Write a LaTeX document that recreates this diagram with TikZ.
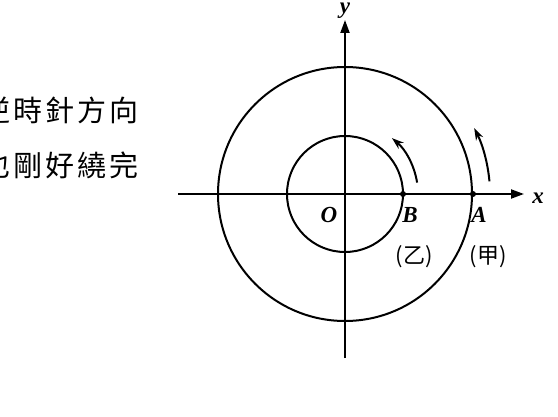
\documentclass[tikz,border=0pt]{standalone}
\usepackage{fontspec}
\setmainfont{Liberation Serif}
\newfontfamily\cjk{Noto Sans CJK TC}
\usetikzlibrary{arrows.meta}
\newcommand{\cjkgap}{\hspace{3pt}}
\begin{document}
\begin{tikzpicture}[x=1pt,y=1pt,
  axis/.style={line width=2pt,-{Triangle[length=13pt,width=9pt]}},
  ring/.style={line width=2pt},
  turn/.style={line width=2pt,-{Stealth[length=12pt,width=8pt]}},
  ptdot/.style={circle,fill=black,inner sep=0pt,minimum size=6pt},
  lab/.style={font=\fontsize{23}{25}\selectfont\bfseries\itshape,inner sep=0pt},
  cjklab/.style={font=\cjk\fontsize{22}{24}\selectfont,inner sep=0pt},
  rowtext/.style={font=\cjk\fontsize{29}{31}\selectfont,inner sep=0pt,anchor=east}]
\useasboundingbox (0,0) rectangle (558,416);
\begin{scope}[shift={(345pt,222pt)}]
  \coordinate (O) at (0,0);
  \coordinate (xs) at (-167,0);
  \coordinate (xe) at (179,0);
  \coordinate (ys) at (0,-164);
  \coordinate (ye) at (0,174);
  \draw[ring] (O) circle[radius=127pt];
  \draw[ring] (O) circle[radius=58pt];
  \draw[axis] (xs) -- (xe);
  \draw[axis] (ys) -- (ye);
  \node[ptdot] (A) at (128,0) {};
  \node[ptdot] (B) at (58,0) {};
  \coordinate (ia) at (9:73pt);
  \coordinate (oa) at (5:145pt);
  \draw[turn] (ia) arc[start angle=9,end angle=50,radius=73pt];
  \draw[turn] (oa) arc[start angle=5,end angle=27,radius=145pt];
  \node[lab] (Olab) at (-16,-21) {O};
  \node[lab] (Blab) at (65,-21) {B};
  \node[lab] (Alab) at (134,-21) {A};
  \node[lab] (xlab) at (193,-4) {x};
  \node[lab,anchor=base] (ylab) at (0,180) {y};
  \node[cjklab] (yi) at (69,-63) {(乙)};
  \node[cjklab] (jia) at (143,-63) {(甲)};
  \node[rowtext] (row1) at (-206,84) {逆\cjkgap 時\cjkgap 針\cjkgap 方\cjkgap 向};
  \node[rowtext] (row2) at (-206,29) {也\cjkgap 剛\cjkgap 好\cjkgap 繞\cjkgap 完};
\end{scope}
\end{tikzpicture}
\end{document}
